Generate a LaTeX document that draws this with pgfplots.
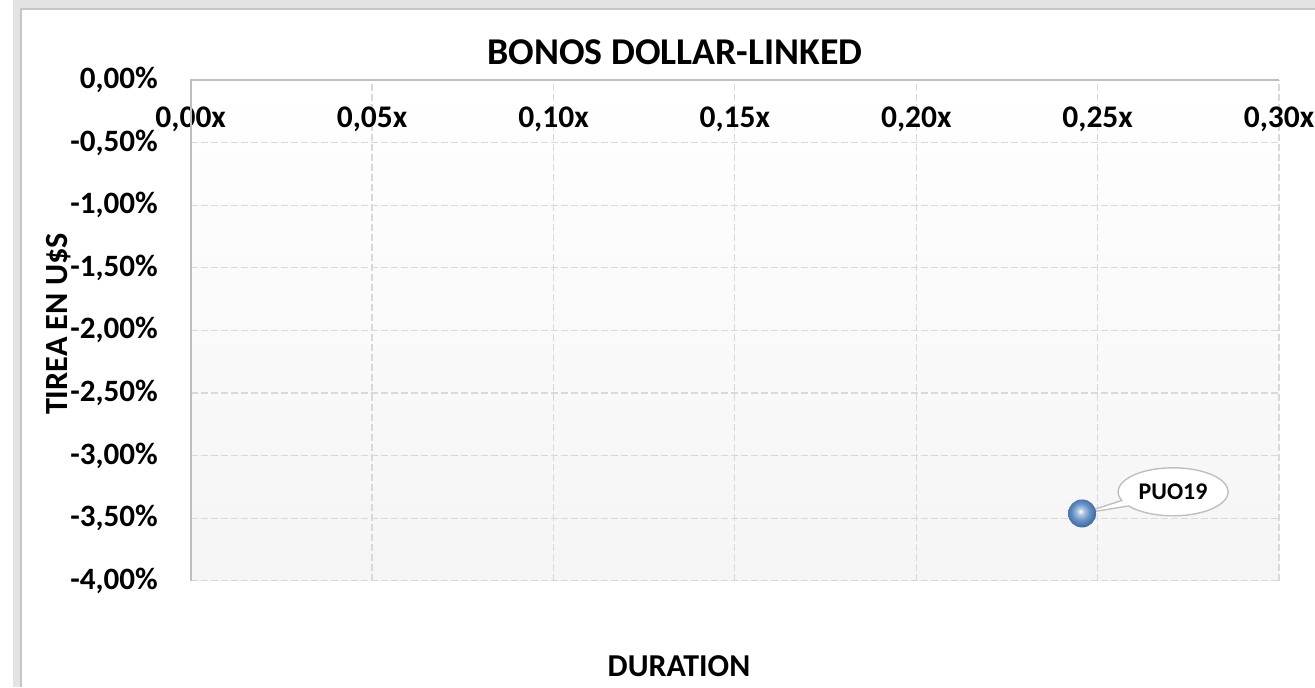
\documentclass[border=0pt]{standalone}
\usepackage{pgfplots}
\pgfplotsset{compat=1.18}
\usepackage{fontspec}
\setmainfont{Carlito}
\usetikzlibrary{shapes.callouts}
\definecolor{xlblue}{RGB}{79,129,189}
\pgfdeclareradialshading{xlball}{\pgfpoint{-3bp}{4bp}}{color(0bp)=(white);color(6bp)=(xlblue!45!white);color(15bp)=(xlblue!85!white);color(25bp)=(xlblue!85!black);color(50bp)=(xlblue!85!black)}
\pgfdeclareplotmark{xlball}{\pgfpathcircle{\pgfpointorigin}{\pgfplotmarksize}\pgfshadepath{xlball}{0}\pgfusepath{}}
\begin{document}
\begin{tikzpicture}[x=0.5bp,y=0.5bp]
\path[use as bounding box] (0,0) rectangle (1315,687);
% chart frame shadow
\fill[gray!22] (13,0) rectangle (22,683);
\fill[gray!22] (13,677) rectangle (1315,687);
\draw[gray!45, line width=0.6bp] (21,0) -- (21,678) -- (1315,678);
\begin{axis}[
  at={(95.35bp,53.15bp)}, anchor=south west,
  scale only axis, width=544.15bp, height=250.35bp,
  xmin=0, xmax=0.3, ymin=-4, ymax=0,
  xtick={0,0.05,...,0.3001},
  xticklabels={{0,00x},{0,05x},{0,10x},{0,15x},{0,20x},{0,25x},{0,30x}},
  ytick={-4,-3.5,...,0.001},
  yticklabels={{-4,00\%},{-3,50\%},{-3,00\%},{-2,50\%},{-2,00\%},{-1,50\%},{-1,00\%},{-0,50\%},{0,00\%}},
  xticklabel pos=upper,
  major tick length=0pt,
  axis line style={draw=none},
  grid=major,
  major grid style={dash pattern=on 3.5bp off 1.5bp, color=gray!30, line width=0.6bp},
  axis background/.style={top color=white, bottom color=gray!8},
  xticklabel style={anchor=base, yshift=-24bp, font=\fontsize{15.8}{18}\selectfont\bfseries},
  yticklabel style={anchor=east, inner sep=0pt, xshift=-16.3bp, font=\fontsize{15.6}{18}\selectfont\bfseries},
  clip=false,
]
\draw[gray!50, line width=0.8bp] (axis cs:0,-4) -- (axis cs:0,0) -- (axis cs:0.3,0);
\addplot[only marks, mark=xlball, mark size=7bp] coordinates {(0.2457,-3.463)};
\node[ellipse callout, callout absolute pointer={(axis cs:0.2457,-3.463)}, draw=gray!50, line width=0.7bp, fill=white, minimum width=55bp, minimum height=24bp, inner sep=0pt, font=\fontsize{12}{14}\selectfont\bfseries] at (axis cs:0.2708,-3.29) {PUO19};
\end{axis}
\node[anchor=base, font=\fontsize{19}{22}\selectfont\bfseries] at (675,622) {BONOS DOLLAR-LINKED};
\node[anchor=base, font=\fontsize{16}{19}\selectfont\bfseries] at (679,11) {DURATION};
\node[anchor=base, rotate=90, font=\fontsize{16.2}{19}\selectfont\bfseries] at (67,363) {TIREA EN U\$S};
\end{tikzpicture}
\end{document}
